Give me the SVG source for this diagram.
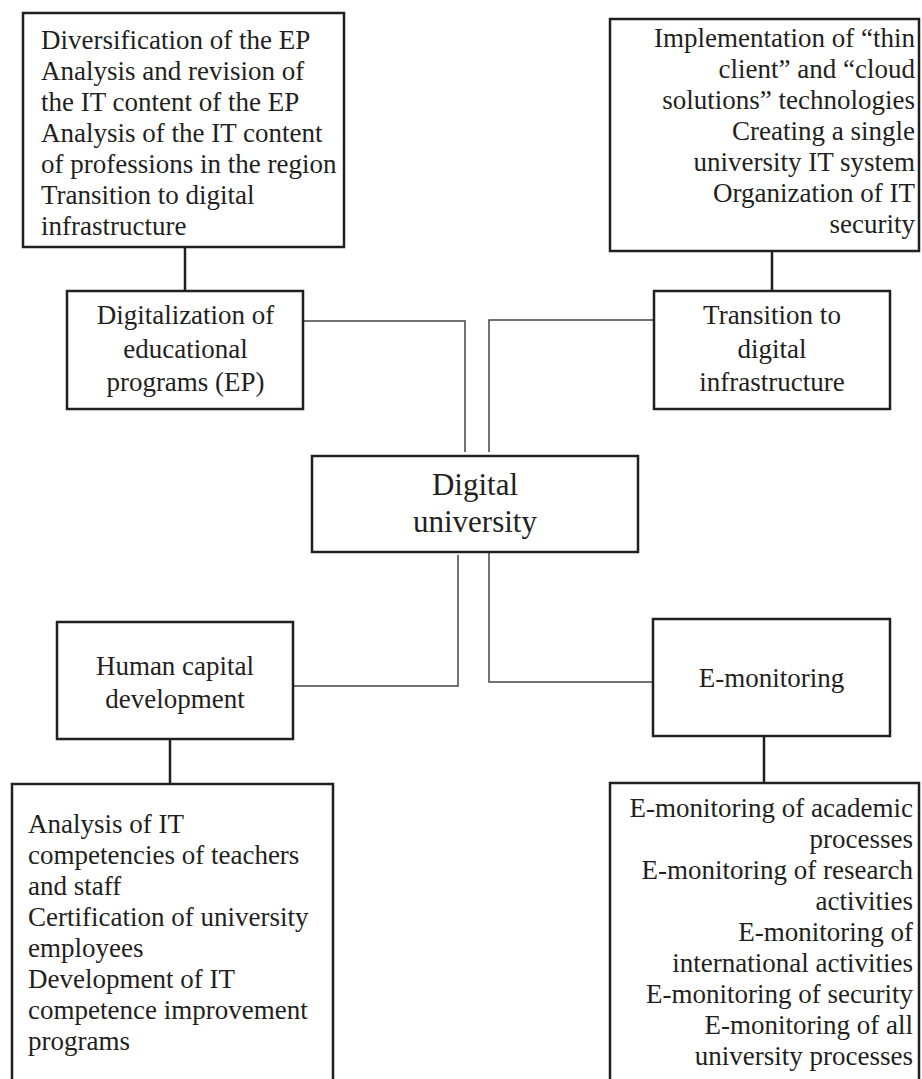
<svg xmlns="http://www.w3.org/2000/svg" width="922" height="1079" viewBox="0 0 922 1079">
<style>
.box{fill:#fff;stroke:#231f20;stroke-width:2.5}
.t{font-family:"Liberation Serif","Times New Roman",serif;font-size:27px;fill:#231f20}
.c{text-anchor:middle}
.r{text-anchor:end}
.big{font-size:31px}
.thick{fill:none;stroke:#231f20;stroke-width:2.5}
.thin{fill:none;stroke:#444;stroke-width:1.5}
</style>
<rect width="922" height="1079" fill="#fff"/>
<g id="connectors">
<line class="thick" x1="185" y1="247" x2="185" y2="291"/>
<line class="thick" x1="772" y1="251" x2="772" y2="291"/>
<polyline class="thin" points="304,321 465,321 465,452"/>
<polyline class="thin" points="654,320 489,320 489,452"/>
<polyline class="thin" points="458,555 458,686 293,686"/>
<polyline class="thin" points="489,552 489,682 653,682"/>
<line class="thick" x1="170" y1="739" x2="170" y2="784"/>
<line class="thick" x1="764" y1="736" x2="764" y2="783"/>
</g>
<g id="ep-tasks">
<rect class="box" x="23" y="13" width="321" height="234"/>
<text class="t" x="41" y="49">Diversification of the EP</text>
<text class="t" x="41" y="80">Analysis and revision of</text>
<text class="t" x="41" y="111">the IT content of the EP</text>
<text class="t" x="41" y="142">Analysis of the IT content</text>
<text class="t" x="41" y="173">of professions in the region</text>
<text class="t" x="41" y="204">Transition to digital</text>
<text class="t" x="41" y="235">infrastructure</text>
</g>
<g id="infra-tasks">
<rect class="box" x="610" y="19" width="309" height="232"/>
<text class="t r" x="915" y="47">Implementation of “thin</text>
<text class="t r" x="915" y="78">client” and “cloud</text>
<text class="t r" x="915" y="109">solutions” technologies</text>
<text class="t r" x="915" y="140">Creating a single</text>
<text class="t r" x="915" y="171">university IT system</text>
<text class="t r" x="915" y="202">Organization of IT</text>
<text class="t r" x="915" y="233">security</text>
</g>
<g id="ep">
<rect class="box" x="67" y="291" width="236" height="118"/>
<text class="t c" x="185.5" y="324">Digitalization of</text>
<text class="t c" x="185.5" y="357.5">educational</text>
<text class="t c" x="185.5" y="391">programs (EP)</text>
</g>
<g id="infra">
<rect class="box" x="654" y="291" width="236" height="118"/>
<text class="t c" x="772" y="324">Transition to</text>
<text class="t c" x="772" y="357.5">digital</text>
<text class="t c" x="772" y="391">infrastructure</text>
</g>
<g id="center">
<rect class="box" x="312" y="456" width="326" height="96"/>
<text class="t c big" x="475" y="495">Digital</text>
<text class="t c big" x="475" y="532">university</text>
</g>
<g id="human">
<rect class="box" x="57" y="622" width="236" height="117"/>
<text class="t c" x="175" y="675">Human capital</text>
<text class="t c" x="175" y="708">development</text>
</g>
<g id="emon">
<rect class="box" x="653" y="619" width="237" height="117"/>
<text class="t c" x="771.5" y="687">E-monitoring</text>
</g>
<g id="human-tasks">
<rect class="box" x="12" y="784" width="321" height="310"/>
<text class="t" x="28" y="833">Analysis of IT</text>
<text class="t" x="28" y="864">competencies of teachers</text>
<text class="t" x="28" y="895">and staff</text>
<text class="t" x="28" y="926">Certification of university</text>
<text class="t" x="28" y="957">employees</text>
<text class="t" x="28" y="988">Development of IT</text>
<text class="t" x="28" y="1019">competence improvement</text>
<text class="t" x="28" y="1050">programs</text>
</g>
<g id="emon-tasks">
<rect class="box" x="610" y="783" width="309" height="310"/>
<text class="t r" x="913" y="817">E-monitoring of academic</text>
<text class="t r" x="913" y="848">processes</text>
<text class="t r" x="913" y="879">E-monitoring of research</text>
<text class="t r" x="913" y="910">activities</text>
<text class="t r" x="913" y="941">E-monitoring of</text>
<text class="t r" x="913" y="972">international activities</text>
<text class="t r" x="913" y="1003">E-monitoring of security</text>
<text class="t r" x="913" y="1034">E-monitoring of all</text>
<text class="t r" x="913" y="1065">university processes</text>
</g>
</svg>
